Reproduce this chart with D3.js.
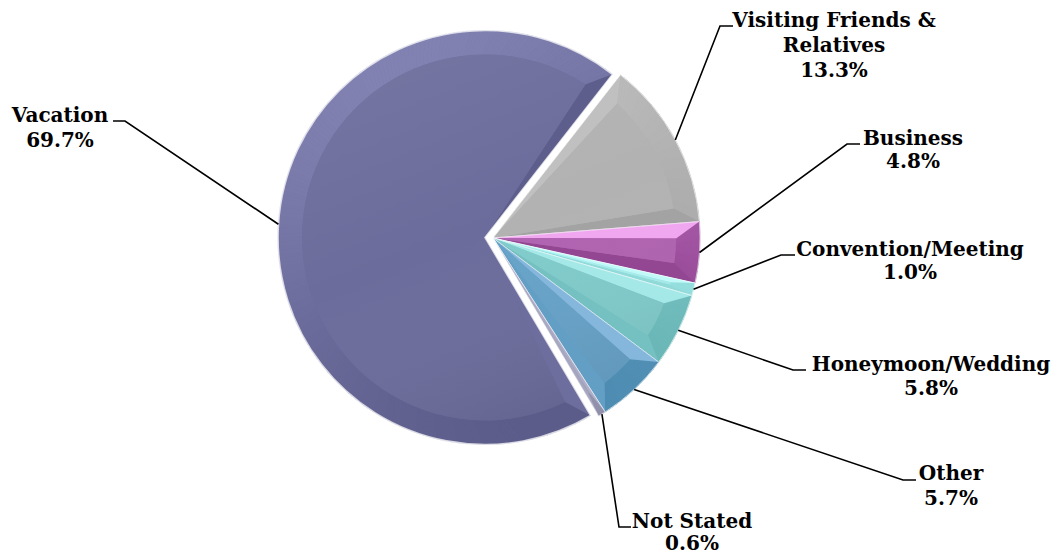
<!DOCTYPE html>
<html>
<head>
<meta charset="utf-8">
<script src="https://cdn.jsdelivr.net/npm/d3@7"></script>
<style>
  html, body { margin: 0; padding: 0; background: #fff; }
  svg { display: block; }
  .lbl { font-family: "DejaVu Serif", "Liberation Serif", serif; font-weight: bold; font-size: 20px; fill: #000; }
</style>
</head>
<body>
<svg id="chart" width="1058" height="556"></svg>
<script>
// ---- data ----
const categories = ["Visiting Friends & Relatives", "Business", "Convention/Meeting", "Honeymoon/Wedding", "Other", "Not Stated", "Vacation"];
const values = [13.3, 4.8, 1.0, 5.8, 5.7, 0.6, 69.7];
const labelTexts = [["Visiting Friends &", "Relatives"], ["Business"], ["Convention/Meeting"], ["Honeymoon/Wedding"], ["Other"], ["Not Stated"], ["Vacation"]];

// ---- styles ----
const baseColors = ["#b2b2b2", "#b062b0", "#a8eeee", "#80cbcb", "#66a2c8", "#aaaac4", "#6c6c9c"];
const hiColors   = ["#c2c2c2", "#f4acf4", "#c8fafa", "#b0f2f2", "#a8ccf2", "#cacade", "#8282b2"];
const loColors   = ["#a2a2a2", "#8c408c", "#88d4d4", "#68b4b4", "#4e8cb2", "#9090aa", "#5c5c8a"];
const exploded = [0, 0, 0, 0, 0, 0, 8];

// ---- layout ----
const cx = 493, cy = 238, R = 207, rimBevel = 24, sideBevel = 15;
const labelLayout = [
  { x: 834, y: 27, lh: 25, elbow: [[733, 26], [720, 26]] },
  { x: 913, y: 145, lh: 23, elbow: [[860, 144], [847, 144]] },
  { x: 910, y: 256, lh: 23, elbow: [[795, 255], [781, 255]] },
  { x: 931, y: 371, lh: 24, elbow: [[806, 370], [793, 370]] },
  { x: 951, y: 480, lh: 25, elbow: [[916, 480], [903, 480]] },
  { x: 692, y: 528, lh: 22, elbow: [[631, 527], [619, 527]] },
  { x: 60, y: 122, lh: 25, elbow: [[113, 121], [125, 121]] }
];

const svg = d3.select("#chart");
const startA = 38 * Math.PI / 180;
const pie = d3.pie().sort(null).value(d => d).startAngle(startA).endAngle(startA + 2 * Math.PI);
const arcs = pie(values);
const arcGen = d3.arc().innerRadius(0).outerRadius(R);

const lightDir = -25 * Math.PI / 180; // from upper-left
function shade(i, normal) {
  const k = Math.cos(normal - lightDir);
  return k > 0 ? d3.interpolateRgb(baseColors[i], hiColors[i])(k) : d3.interpolateRgb(baseColors[i], loColors[i])(-k);
}
const pt = (a, r) => [r * Math.sin(a), -r * Math.cos(a)];

const defs = svg.append("defs");
const g1 = defs.append("linearGradient").attr("id", "faceGrad")
  .attr("gradientUnits", "userSpaceOnUse").attr("x1", -R * 0.5).attr("y1", -R).attr("x2", R * 0.3).attr("y2", R);
g1.append("stop").attr("offset", "0%").attr("stop-color", "#fff").attr("stop-opacity", 0.07);
g1.append("stop").attr("offset", "50%").attr("stop-color", "#fff").attr("stop-opacity", 0.0);
g1.append("stop").attr("offset", "100%").attr("stop-color", "#000").attr("stop-opacity", 0.10);

const pieG = svg.append("g").attr("transform", `translate(${cx},${cy})`);

arcs.forEach((d, i) => {
  const mid = (d.startAngle + d.endAngle) / 2;
  const off = pt(mid, exploded[i]);
  const g = pieG.append("g").attr("transform", `translate(${off[0]},${off[1]})`);
  const base = baseColors[i];
  const a0 = d.startAngle, a1 = d.endAngle;
  const ri = R - rimBevel;
  const dl = Math.min(Math.asin(sideBevel / ri), (a1 - a0) * 0.4);

  g.append("path").attr("d", arcGen(d)).attr("fill", base);

  // rim facets
  const steps = Math.max(2, Math.ceil((a1 - a0) / (1.2 * Math.PI / 180)));
  for (let s = 0; s < steps; s++) {
    const t0 = a0 + (a1 - a0) * s / steps, t1 = a0 + (a1 - a0) * (s + 1) / steps;
    const u0 = a0 + dl + (a1 - a0 - 2 * dl) * s / steps, u1 = a0 + dl + (a1 - a0 - 2 * dl) * (s + 1) / steps;
    const p = d3.path();
    const A = pt(t0, R), B = pt(t1, R), C = pt(u1, ri), D = pt(u0, ri);
    p.moveTo(A[0], A[1]); p.lineTo(B[0], B[1]); p.lineTo(C[0], C[1]); p.lineTo(D[0], D[1]); p.closePath();
    const c = shade(i, (t0 + t1) / 2);
    g.append("path").attr("d", p.toString()).attr("fill", c).attr("stroke", c).attr("stroke-width", 0.6);
  }
  // start facet
  {
    const p = d3.path(); const A = pt(a0, R), B = pt(a0 + dl, ri);
    p.moveTo(0, 0); p.lineTo(A[0], A[1]); p.lineTo(B[0], B[1]); p.closePath();
    g.append("path").attr("d", p.toString()).attr("fill", shade(i, a0 - Math.PI / 2));
  }
  // end facet
  {
    const p = d3.path(); const A = pt(a1, R), B = pt(a1 - dl, ri);
    p.moveTo(0, 0); p.lineTo(A[0], A[1]); p.lineTo(B[0], B[1]); p.closePath();
    g.append("path").attr("d", p.toString()).attr("fill", shade(i, a1 + Math.PI / 2));
  }
  // top face
  {
    const p = d3.path(); const A = pt(a0 + dl, ri);
    p.moveTo(0, 0); p.lineTo(A[0], A[1]);
    p.arc(0, 0, ri, a0 + dl - Math.PI / 2, a1 - dl - Math.PI / 2, false);
    p.closePath();
    g.append("path").attr("d", p.toString()).attr("fill", base);
    g.append("path").attr("d", p.toString()).attr("fill", "url(#faceGrad)");
  }
  // light outline
  g.append("path").attr("d", arcGen(d)).attr("fill", "none")
    .attr("stroke", "#ffffff").attr("stroke-width", i === 6 ? 1.6 : 0.8).attr("stroke-opacity", 0.75);
});

// leader lines and labels
const fmt = d3.format(".1f");
arcs.forEach((d, i) => {
  const L = labelLayout[i];
  const mid = (d.startAngle + d.endAngle) / 2;
  const off = pt(mid, exploded[i]);
  const e = pt(mid, R);
  const end = [cx + off[0] + e[0], cy + off[1] + e[1]];
  svg.append("path")
    .attr("d", d3.line()([L.elbow[0], L.elbow[1], end]))
    .attr("fill", "none").attr("stroke", "#000").attr("stroke-width", 1.6);
  const lines = labelTexts[i].concat([fmt(values[i]) + "%"]);
  const t = svg.append("text").attr("class", "lbl").attr("text-anchor", "middle");
  lines.forEach((s, j) => {
    t.append("tspan").attr("x", L.x).attr("y", L.y + j * L.lh).text(s);
  });
});
</script>
</body>
</html>
